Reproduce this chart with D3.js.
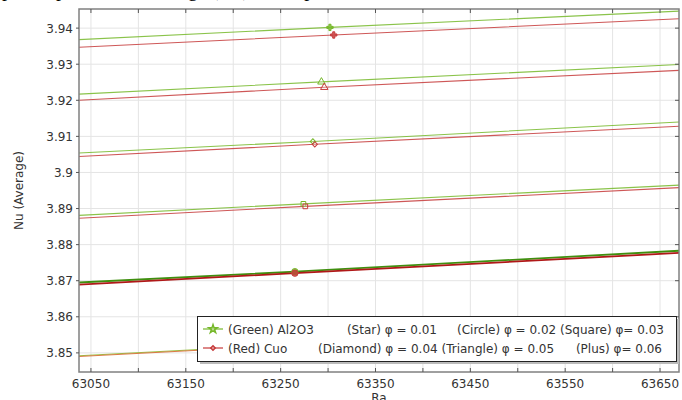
<!DOCTYPE html>
<html>
<head>
<meta charset="utf-8">
<script src="https://cdn.jsdelivr.net/npm/d3@7"></script>
<style>
  body { margin: 0; background: #fff; }
  svg { display: block; }
  text { font-family: "DejaVu Sans", sans-serif; fill: #333; }
</style>
</head>
<body>
<svg id="chart" width="682" height="400"></svg>
<script>
// volume fractions and the marker used for each of them
const phiValues = [0.01, 0.02, 0.03, 0.04, 0.05, 0.06]
const markerNames = ["star", "circle", "square", "diamond", "triangle", "plus"]

// Ra at the two ends of each line
const raEnds = [63037, 63670]

// Al2O3 (green): Nu at left end, right end, and the marked point
const al2o3Left = [3.8492, 3.8695, 3.8881, 3.9054, 3.9217, 3.9368]
const al2o3Right = [3.8580, 3.8783, 3.8965, 3.9140, 3.9299, 3.9447]
const al2o3MarkRa = [63255, 63265, 63274, 63284, 63293, 63302]
const al2o3MarkNu = [3.8522, 3.8725, 3.8913, 3.9086, 3.9251, 3.9402]

// CuO (red)
const cuoLeft = [3.8490, 3.8689, 3.8873, 3.9044, 3.9200, 3.9347]
const cuoRight = [3.8578, 3.8777, 3.8958, 3.9128, 3.9283, 3.9426]
const cuoMarkRa = [63257, 63265, 63276, 63286, 63296, 63306]
const cuoMarkNu = [3.8520, 3.8721, 3.8906, 3.9078, 3.9236, 3.9381]

// tick values
const xTicks = [63050, 63150, 63250, 63350, 63450, 63550, 63650]
const yTicks = [3.85, 3.86, 3.87, 3.88, 3.89, 3.9, 3.91, 3.92, 3.93, 3.94]

const plotLeft = 79, plotRight = 679, plotTop = 9, plotBottom = 372
const green = "#76b82a"
const red = "#c63a3a"

const svg = d3.select("#chart")

const x = d3.scaleLinear().domain([63037.4, 63670]).range([plotLeft, plotRight])
const y = d3.scaleLinear().domain([3.8447, 3.9453]).range([plotBottom, plotTop])

// title, cut off by the top of the picture
svg.append("text")
    .attr("x", 2).attr("y", -4)
    .style("font-family", "'Liberation Serif', serif")
    .style("font-size", "20px").style("fill", "#000")
    .text("p          Comparison of Average (Nu) vs Ra plot")

// grid every 50 in Ra and every 0.01 in Nu
const xGrid = d3.range(63050, 63670, 50)
svg.append("g").selectAll("line").data(xGrid).join("line")
    .attr("x1", d => x(d)).attr("x2", d => x(d))
    .attr("y1", plotTop).attr("y2", plotBottom)
    .attr("stroke", "#e4e4e4").attr("stroke-width", 1)
svg.append("g").selectAll("line").data(yTicks).join("line")
    .attr("x1", plotLeft).attr("x2", plotRight)
    .attr("y1", d => y(d)).attr("y2", d => y(d))
    .attr("stroke", "#e4e4e4").attr("stroke-width", 1)

// build the series
const series = []
phiValues.forEach((phi, i) => {
    series.push({ name: "Al2O3", phi, marker: markerNames[i], color: green, idx: i,
        pts: [[raEnds[0], al2o3Left[i]], [al2o3MarkRa[i], al2o3MarkNu[i]], [raEnds[1], al2o3Right[i]]] })
    series.push({ name: "CuO", phi, marker: markerNames[i], color: red, idx: i,
        pts: [[raEnds[0], cuoLeft[i]], [cuoMarkRa[i], cuoMarkNu[i]], [raEnds[1], cuoRight[i]]] })
})

svg.append("clipPath").attr("id", "plotClip")
    .append("rect").attr("x", plotLeft).attr("y", plotTop)
    .attr("width", plotRight - plotLeft).attr("height", plotBottom - plotTop)

const plot = svg.append("g").attr("clip-path", "url(#plotClip)")
const line = d3.line().x(d => x(d[0])).y(d => y(d[1]))

plot.selectAll("path.series").data(series).join("path")
    .attr("class", "series")
    .attr("d", d => line(d.pts))
    .attr("fill", "none")
    .attr("stroke", d => {
        if (d.idx === 1) return d.color === green ? "#3f8f0f" : "#b01818"
        if (d.idx === 0) return d.color === green ? "#8ab82a" : "#d8652a"
        return d.color
    })
    .attr("stroke-width", d => d.idx === 1 ? 1.8 : 1.1)
    .attr("opacity", d => d.idx === 1 ? 1 : 0.85)

// diamonds are drawn as squares turned by 45 degrees
const symbolTypes = {
    star: d3.symbolStar, circle: d3.symbolCircle, square: d3.symbolSquare,
    diamond: d3.symbolSquare, triangle: d3.symbolTriangle, plus: d3.symbolCross
}
const markerSize = { star: 24, circle: 32, square: 22, diamond: 14, triangle: 24, plus: 22 }
const filled = { plus: true, circle: true }

plot.selectAll("path.marker").data(series).join("path")
    .attr("class", "marker")
    .attr("transform", d => `translate(${x(d.pts[1][0])},${y(d.pts[1][1])})` + (d.marker === "diamond" ? " rotate(45)" : ""))
    .attr("d", d => d3.symbol().type(symbolTypes[d.marker]).size(markerSize[d.marker])())
    .attr("fill", d => filled[d.marker] ? d.color : "#fff")
    .attr("fill-opacity", d => filled[d.marker] ? 0.8 : 0.2)
    .attr("stroke", d => d.color)
    .attr("stroke-width", 1)

// frame
svg.append("rect")
    .attr("x", plotLeft).attr("y", plotTop)
    .attr("width", plotRight - plotLeft).attr("height", plotBottom - plotTop)
    .attr("fill", "none").attr("stroke", "#808080").attr("stroke-width", 1.5)

// ticks: x every 50 (inward top and bottom), labels every 100
const xMinor = d3.range(63050, 63670, 50)
const axisG = svg.append("g").attr("stroke", "#555").attr("stroke-width", 1)
xMinor.forEach(v => {
    axisG.append("line").attr("x1", x(v)).attr("x2", x(v)).attr("y1", plotBottom).attr("y2", plotBottom - 4)
    axisG.append("line").attr("x1", x(v)).attr("x2", x(v)).attr("y1", plotTop).attr("y2", plotTop + 4)
})
yTicks.forEach(v => {
    axisG.append("line").attr("x1", plotLeft - 3).attr("x2", plotLeft).attr("y1", y(v)).attr("y2", y(v))
    axisG.append("line").attr("x1", plotRight).attr("x2", plotRight - 4).attr("y1", y(v)).attr("y2", y(v))
})

svg.append("g").selectAll("text").data(xTicks).join("text")
    .attr("x", d => x(d)).attr("y", 388)
    .attr("text-anchor", "middle").style("font-size", "12px")
    .text(d => d)

const fmtY = d => (+d.toFixed(2)).toString()
svg.append("g").selectAll("text").data(yTicks).join("text")
    .attr("x", 73).attr("y", d => y(d) + 4.5)
    .attr("text-anchor", "end").style("font-size", "12px")
    .text(fmtY)

// axis titles
svg.append("text")
    .attr("transform", `translate(23,${(plotTop + plotBottom) / 2}) rotate(-90)`)
    .attr("text-anchor", "middle").style("font-size", "12px")
    .text("Nu (Average)")
svg.append("text")
    .attr("x", (plotLeft + plotRight) / 2).attr("y", 402)
    .attr("text-anchor", "middle").style("font-size", "12px")
    .text("Ra")

// legend
const lg = svg.append("g")
lg.append("rect").attr("x", 200).attr("y", 319).attr("width", 479).attr("height", 45)
    .attr("fill", "#bbb")
lg.append("rect").attr("x", 197.5).attr("y", 316.5).attr("width", 479).attr("height", 45)
    .attr("fill", "#fff").attr("stroke", "#222").attr("stroke-width", 1)

const legendRows = [
    { color: green, marker: "star", y: 329,
      texts: [["(Green) Al2O3", 228, "start"], ["(Star) \u03c6 = 0.01", 437, "end"], ["(Circle) \u03c6 = 0.02 (Square) \u03c6= 0.03", 457, "start"]] },
    { color: red, marker: "diamond", y: 348,
      texts: [["(Red) Cuo", 228, "start"], ["(Diamond) \u03c6 = 0.04 (Triangle) \u03c6 = 0.05", 318, "start"], ["(Plus) \u03c6= 0.06", 662, "end"]] }
]
legendRows.forEach(r => {
    lg.append("line").attr("x1", 203).attr("x2", 223).attr("y1", r.y).attr("y2", r.y)
        .attr("stroke", r.color).attr("stroke-width", 1.2)
    lg.append("path")
        .attr("transform", `translate(213,${r.y})` + (r.marker === "diamond" ? " rotate(45)" : ""))
        .attr("d", d3.symbol().type(symbolTypes[r.marker]).size(r.marker === "star" ? 22 : 10)())
        .attr("fill", "#fff").attr("fill-opacity", 0.3)
        .attr("stroke", r.color).attr("stroke-width", 1.5)
    r.texts.forEach(t => {
        lg.append("text").attr("x", t[1]).attr("y", r.y + 4.5)
            .attr("text-anchor", t[2]).style("font-size", "12px")
            .text(t[0])
    })
})
</script>
</body>
</html>
